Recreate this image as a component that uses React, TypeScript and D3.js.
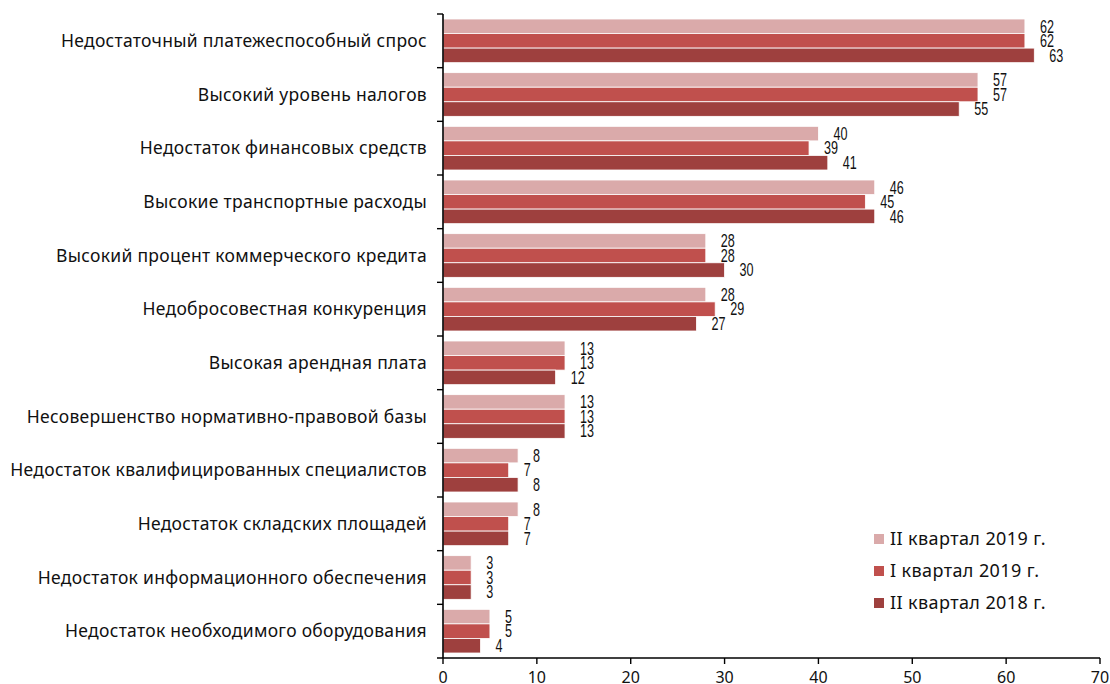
import { useMemo } from 'react';
import * as d3 from 'd3';

const categories = [
  'Недостаточный платежеспособный спрос',
  'Высокий уровень налогов',
  'Недостаток финансовых средств',
  'Высокие транспортные расходы',
  'Высокий процент коммерческого кредита',
  'Недобросовестная конкуренция',
  'Высокая арендная плата',
  'Несовершенство нормативно-правовой базы',
  'Недостаток квалифицированных специалистов',
  'Недостаток складских площадей',
  'Недостаток информационного обеспечения',
  'Недостаток необходимого оборудования',
];

const seriesNames = ['II квартал 2019 г.', 'I квартал 2019 г.', 'II квартал 2018 г.'];
const q2_2019 = [62, 57, 40, 46, 28, 28, 13, 13, 8, 8, 3, 5];
const q1_2019 = [62, 57, 39, 45, 28, 29, 13, 13, 7, 7, 3, 5];
const q2_2018 = [63, 55, 41, 46, 30, 27, 12, 13, 8, 7, 3, 4];
const seriesValues = [q2_2019, q1_2019, q2_2018];
const colors = ['#DAAAAA', '#C0504D', '#9E403E'];
const xTicks = [0, 10, 20, 30, 40, 50, 60, 70];

const W = 1110;
const H = 684;
const labelFont = '"Noto Sans", "Open Sans", sans-serif';
const numFont = '"Liberation Sans", Arial, sans-serif';

export default function App() {
  const x = useMemo(() => d3.scaleLinear().domain([0, 70]).range([443, 1100]), []);
  const y = useMemo(() => d3.scaleBand<string>().domain(categories).range([14, 658]), []);
  const bw = y.bandwidth();
  const inner = d3.scaleBand<number>().domain([0, 1, 2]).range([5, bw - 5]);

  return (
    <svg width={W} height={H} style={{ position: 'absolute', left: 0, top: 0, background: '#fff' }}>
      {/* bars + value labels */}
      {categories.map((c, i) => (
        <g key={c} transform={`translate(0,${y(c)})`}>
          {seriesValues.map((vals, s) => (
            <g key={s}>
              <rect
                x={x(0)}
                y={inner(s)}
                width={x(vals[i]) - x(0)}
                height={inner.bandwidth()}
                fill={colors[s]}
                stroke="#fff"
                strokeWidth={0.8}
              />
              <text
                transform={`translate(${x(vals[i]) + 15},${(inner(s) ?? 0) + inner.bandwidth() / 2}) scale(0.72,1)`}
                dy="0.36em"
                fontFamily={numFont}
                fontSize={17.5}
                fill="#111"
              >
                {vals[i]}
              </text>
            </g>
          ))}
          <text
            x={427}
            y={bw / 2}
            dy="0.35em"
            textAnchor="end"
            fontFamily={labelFont}
            fontSize={17.5}
            letterSpacing={0.3}
            fill="#111"
          >
            {c}
          </text>
        </g>
      ))}

      {/* y axis */}
      <line x1={x(0)} x2={x(0)} y1={14} y2={658} stroke="#000" strokeWidth={1.6} />
      {categories.map((c) => (
        <line key={c} x1={x(0) - 6} x2={x(0)} y1={y(c)} y2={y(c)} stroke="#000" strokeWidth={1.4} />
      ))}

      {/* x axis */}
      <line x1={x(0) - 6} x2={x(70)} y1={658} y2={658} stroke="#000" strokeWidth={1.6} />
      {xTicks.map((t) => (
        <g key={t}>
          <line x1={x(t)} x2={x(t)} y1={658} y2={664} stroke="#000" strokeWidth={1.4} />
          <text x={x(t)} y={683} textAnchor="middle" fontFamily={labelFont} fontSize={16} fill="#111">
            {t}
          </text>
        </g>
      ))}

      {/* legend */}
      {seriesNames.map((n, s) => (
        <g key={n} transform={`translate(874,${539 + s * 32})`}>
          <rect x={0} y={-5} width={10} height={10} fill={colors[s]} />
          <text x={16} y={0} dy="0.35em" fontFamily={labelFont} fontSize={18} letterSpacing={0.4} fill="#111">
            {n}
          </text>
        </g>
      ))}
    </svg>
  );
}
